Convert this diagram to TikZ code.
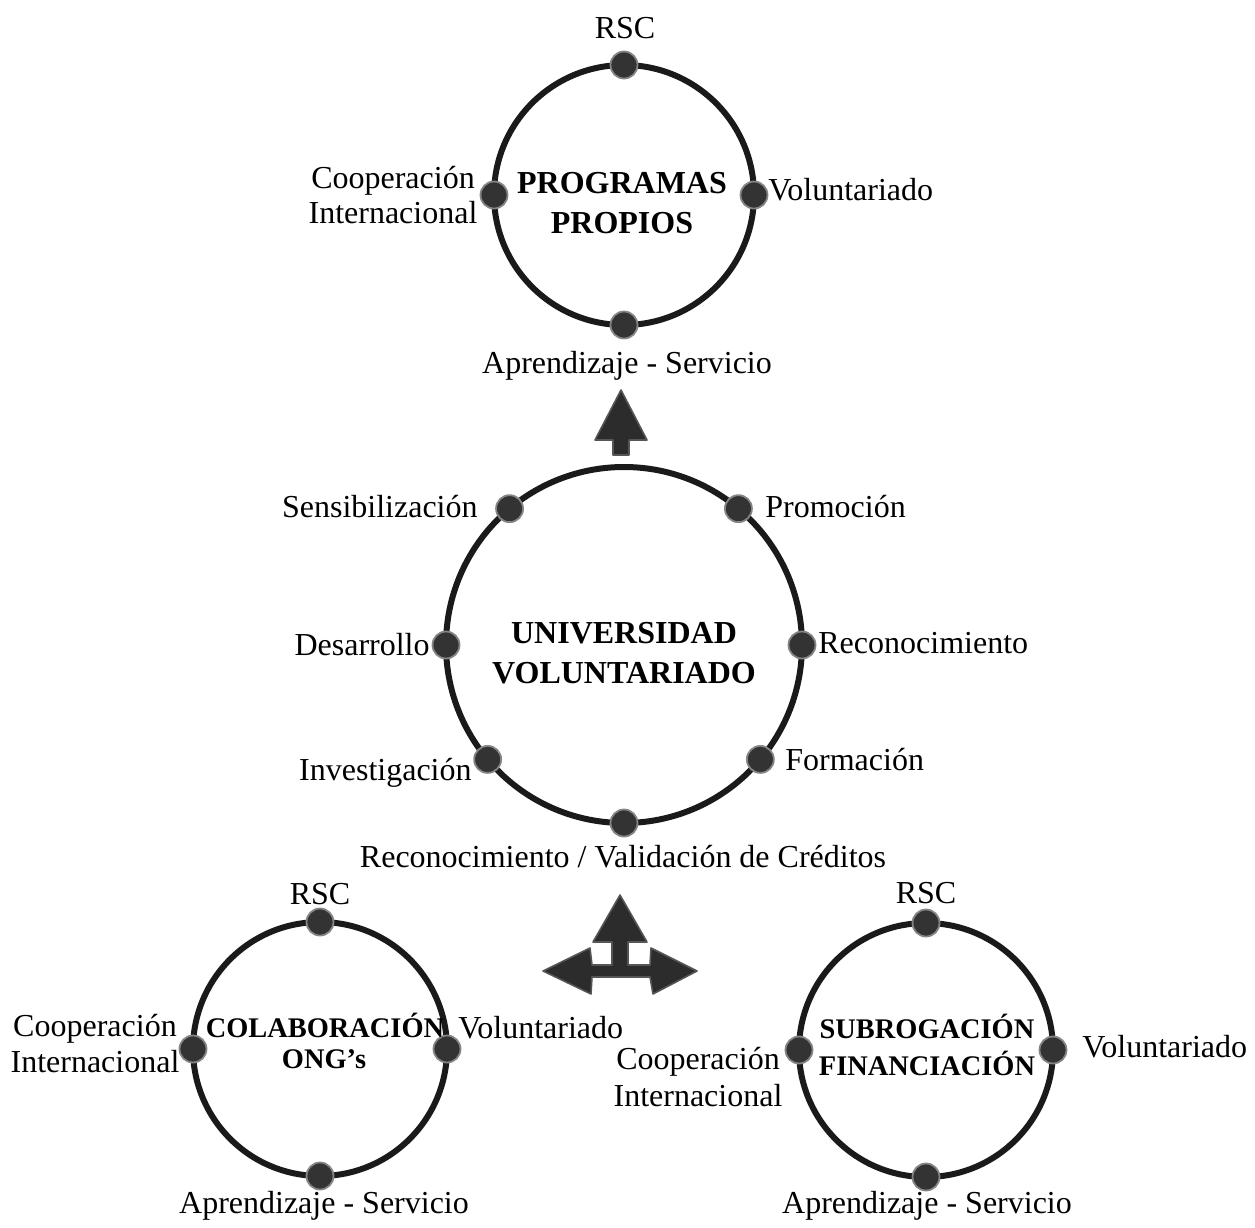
\documentclass[tikz,border=0pt]{standalone}
\usepackage{fontspec}
\setmainfont{Liberation Serif}
\definecolor{ringcol}{HTML}{1A1A1A}
\definecolor{dotcol}{HTML}{333333}
\definecolor{arrowcol}{HTML}{2C2C2C}
\begin{document}
\begin{tikzpicture}[x=0.5pt,y=-0.5pt,
  ring/.style={circle,draw=ringcol,line width=3pt,minimum size=#1,inner sep=0pt,outer sep=0pt},
  dot/.style={circle,fill=dotcol,draw=dotcol!60,line width=0.9pt,minimum size=13.5pt,inner sep=0pt},
  lbl/.style={font=\fontsize{16}{17.5}\selectfont,inner sep=0pt},
  ttl/.style={font=\fontsize{16}{20}\selectfont\bfseries,inner sep=0pt},
  ttlsmall/.style={font=\fontsize{14.2}{18}\selectfont\bfseries,inner sep=0pt},
  blockarrow/.style={fill=arrowcol,draw=arrowcol!80,line width=0.8pt,line join=round}]

\useasboundingbox (0,0) rectangle (1255,1228);

% ---- rings ----
\node[ring=130pt] (top) at (624,195) {};
\node[ring=178pt] (mid) at (624,645) {};
\node[ring=127pt] (bl)  at (320,1049) {};
\node[ring=127pt] (br)  at (926,1050) {};

% ---- dots on the rings ----
\foreach \r in {top,bl,br}
  \foreach \a/\n in {90/n,0/e,270/s,180/w}
    \node[dot] (\r-\n) at (\r.\a) {};
\foreach \a/\n in {130/nw,50/ne,0/e,180/w,220/sw,320/se,270/s}
  \node[dot] (mid-\n) at (mid.\a) {};

% ---- top ring: Programas propios ----
\node[ttl,anchor=base] (top-t1) at (622,193) {PROGRAMAS};
\node[ttl,anchor=base] (top-t2) at (622,233) {PROPIOS};
\node[lbl,anchor=base] (top-rsc) at (625,38) {RSC};
\node[lbl,anchor=base] (top-c1) at (393,188) {Cooperación};
\node[lbl,anchor=base] (top-c2) at (393,223) {Internacional};
\node[lbl,anchor=base west] (top-vol) at (768,200) {Voluntariado};
\node[lbl,anchor=base] (top-aps) at (627,373) {Aprendizaje - Servicio};

% ---- middle ring: Universidad voluntariado ----
\node[ttl,anchor=base] (mid-t1) at (624,643) {UNIVERSIDAD};
\node[ttl,anchor=base] (mid-t2) at (624,683) {VOLUNTARIADO};
\node[lbl,anchor=base east] (mid-sens) at (478,517) {Sensibilización};
\node[lbl,anchor=base west] (mid-prom) at (765,517) {Promoción};
\node[lbl,anchor=base east] (mid-des)  at (430,655) {Desarrollo};
\node[lbl,anchor=base west] (mid-rec)  at (818,653) {Reconocimiento};
\node[lbl,anchor=base east] (mid-inv)  at (472,780) {Investigación};
\node[lbl,anchor=base west] (mid-for)  at (785,770) {Formación};
\node[lbl,anchor=base] (mid-val) at (623,867) {Reconocimiento / Validación de Créditos};

% ---- bottom left ring: Colaboración ONG's ----
\node[ttlsmall,anchor=base] (bl-t1) at (325,1037) {COLABORACIÓN};
\node[ttlsmall,anchor=base] (bl-t2) at (324,1068) {ONG’s};
\node[lbl,anchor=base] (bl-rsc) at (320,904) {RSC};
\node[lbl,anchor=base] (bl-c1) at (95,1036) {Cooperación};
\node[lbl,anchor=base] (bl-c2) at (95,1072) {Internacional};
\node[lbl,anchor=base west] (bl-vol) at (458,1038) {Voluntariado};
\node[lbl,anchor=base] (bl-aps) at (324,1213) {Aprendizaje - Servicio};

% ---- bottom right ring: Subrogación financiación ----
\node[ttlsmall,anchor=base] (br-t1) at (927,1038) {SUBROGACIÓN};
\node[ttlsmall,anchor=base] (br-t2) at (927,1075) {FINANCIACIÓN};
\node[lbl,anchor=base] (br-rsc) at (926,903) {RSC};
\node[lbl,anchor=base] (br-c1) at (698,1069) {Cooperación};
\node[lbl,anchor=base] (br-c2) at (698,1106) {Internacional};
\node[lbl,anchor=base west] (br-vol) at (1082,1057) {Voluntariado};
\node[lbl,anchor=base] (br-aps) at (927,1213) {Aprendizaje - Servicio};

% ---- block arrow pointing up to the top ring ----
\coordinate (upTip) at (621,390);
\draw[blockarrow] (upTip) -- ++(26,50) -- ++(-18,0) -- ++(0,15) -- ++(-16,0)
  -- ++(0,-15) -- ++(-18,0) -- cycle;

% ---- three-way block arrow below the middle ring ----
\coordinate (crossTip) at (620,895);
\draw[blockarrow] (crossTip) -- ++(27,47) -- ++(-19,0) -- ++(0,23)
  -- (650,965) -- (651,948) -- (697,971) -- (653,994) -- (650,977)
  -- (592,977) -- (591,994) -- (543,971) -- (590,948) -- (592,965)
  -- (612,965) -- (612,942) -- (593,942) -- cycle;
\end{tikzpicture}
\end{document}
